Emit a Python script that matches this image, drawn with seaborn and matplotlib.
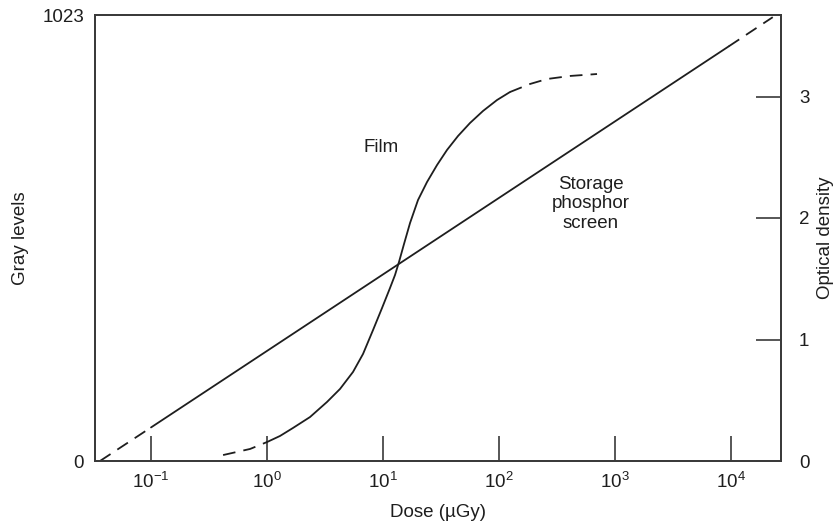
import numpy as np
import pandas as pd
import matplotlib
matplotlib.use("Agg")
import matplotlib.pyplot as plt
import seaborn as sns

# ---- data ----
# Storage phosphor screen: gray level vs dose (µGy)
phosphor_dose = [0.0363, 0.1, 9550.0, 22900.0]
phosphor_gray = [0, 77, 951, 1018]
phosphor_style = ["dashed", "solid", "dashed"]  # per segment

# Film: optical density vs dose (µGy)
film_dose = [0.418, 0.714, 1.0, 1.294, 1.675, 2.349, 3.29, 4.259, 5.513, 6.724,
             8.203, 9.804, 11.49, 12.69, 13.73, 15.17, 17.10, 20.03, 23.95,
             29.22, 35.62, 44.32, 56.23, 72.80, 96.12, 124.4, 185.0, 259.4,
             409.4, 699.6]
film_od = [0.049, 0.099, 0.156, 0.206, 0.272, 0.362, 0.486, 0.593, 0.733, 0.881,
           1.078, 1.259, 1.424, 1.531, 1.638, 1.786, 1.959, 2.148, 2.296,
           2.436, 2.560, 2.675, 2.782, 2.881, 2.971, 3.037, 3.103, 3.144,
           3.169, 3.185]
film_solid_range = (1.0, 124.4)

xticks = [1e-1, 1e0, 1e1, 1e2, 1e3, 1e4]
xticklabels = [r"$10^{-1}$", r"$10^{0}$", r"$10^{1}$", r"$10^{2}$", r"$10^{3}$", r"$10^{4}$"]
gray_ticks = [0, 1023]
od_ticks = [0, 1, 2, 3]

# ---- style ----
sns.set_theme(style="white")
plt.rcParams["font.family"] = ["Liberation Sans", "DejaVu Sans"]
plt.rcParams["mathtext.fontset"] = "custom"
plt.rcParams["mathtext.rm"] = "Liberation Sans"
plt.rcParams["mathtext.it"] = "Liberation Sans:italic"
plt.rcParams["mathtext.default"] = "regular"

ink = "#1e1e1e"
spine_col = "#3a3a3a"
fs = 13.5
lw = 1.3
dash = (7, 4.5)

fig = plt.figure(figsize=(8.4, 5.28), dpi=100)
ax = fig.add_axes([95 / 840, 1 - 461 / 528, (781 - 95) / 840, (461 - 15) / 528])
ax2 = ax.twinx()

# phosphor segments
for i, st in enumerate(phosphor_style):
    seg = pd.DataFrame({"dose": phosphor_dose[i:i + 2], "gray": phosphor_gray[i:i + 2]})
    sns.lineplot(data=seg, x="dose", y="gray", ax=ax, color=ink, lw=lw,
                 estimator=None, sort=False, legend=False)
    if st == "dashed":
        ax.lines[-1].set_dashes(dash)

# film segments
film = pd.DataFrame({"dose": film_dose, "od": film_od})
lo, hi = film_solid_range
parts = [
    (film[film.dose <= lo], True),
    (film[(film.dose >= lo) & (film.dose <= hi)], False),
    (film[film.dose >= hi], True),
]
for df, dashed in parts:
    sns.lineplot(data=df, x="dose", y="od", ax=ax2, color=ink, lw=lw,
                 estimator=None, sort=False, legend=False)
    ax2.lines[-1].set_solid_joinstyle("round")
    if dashed:
        ax2.lines[-1].set_dashes(dash)

for a in (ax, ax2):
    a.set_xscale("log")
    a.set_xlim(10 ** -1.483, 10 ** 4.431)
    for s in a.spines.values():
        s.set_visible(True)
        s.set_color(spine_col)
        s.set_linewidth(1.3)

ax.set_ylim(0, 1023)
ax2.set_ylim(0, 446 / 121.5)

ax.set_xticks(xticks)
ax.set_xticklabels(xticklabels)
ax.xaxis.set_minor_locator(matplotlib.ticker.NullLocator())
ax2.xaxis.set_minor_locator(matplotlib.ticker.NullLocator())
ax.tick_params(axis="x", direction="in", length=18, width=1.2, color=spine_col,
               labelsize=fs, labelcolor=ink, pad=8, bottom=True)

ax.set_yticks(gray_ticks)
ax.set_yticklabels([str(t) for t in gray_ticks])
ax.tick_params(axis="y", length=0, labelsize=fs, labelcolor=ink, pad=8, left=True)

ax2.set_yticks(od_ticks)
ax2.set_yticklabels([str(t) for t in od_ticks])
ax2.tick_params(axis="y", direction="in", length=18, width=1.2, color=spine_col,
                labelsize=fs, labelcolor=ink, pad=13, right=True)

ax.set_xlabel("Dose (µGy)", fontsize=fs, color=ink)
ax.set_ylabel("Gray levels", fontsize=fs, color=ink)
ax2.set_ylabel("Optical density", fontsize=fs, color=ink)
ax.yaxis.set_label_coords(-66 / 686, 0.5)
ax2.yaxis.set_label_coords(1 + 36 / 686, 0.5)
ax.xaxis.set_label_coords(0.5, -43 / 446)

fig.text(381 / 840, 1 - 148 / 528, "Film", fontsize=fs, color=ink,
         ha="center", va="center")
fig.text(591 / 840, 1 - 204 / 528, "Storage\nphosphor\nscreen", fontsize=fs,
         color=ink, ha="center", va="center", linespacing=1.2)

fig.savefig("out.png", dpi=100)
